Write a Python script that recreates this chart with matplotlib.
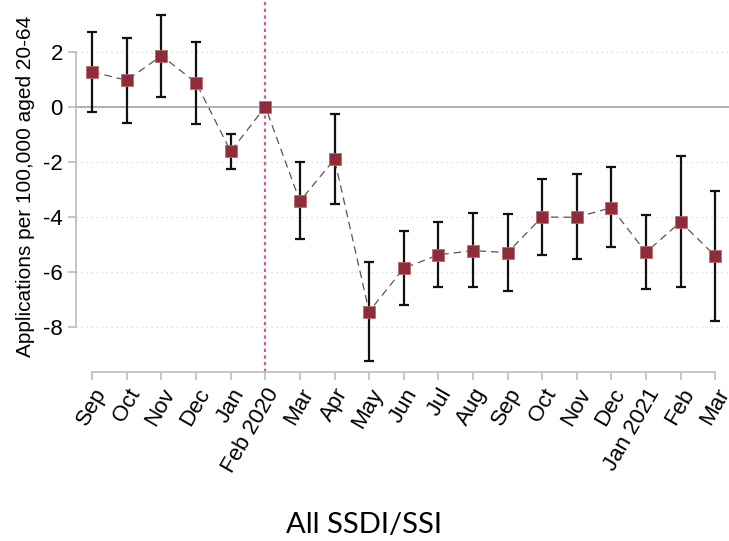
import numpy as np
import matplotlib
matplotlib.use('Agg')
import matplotlib.pyplot as plt

plt.rcParams['font.family'] = ['Liberation Sans', 'DejaVu Sans']
plt.rcParams['axes.unicode_minus'] = False

# months (Sep 2019 - Mar 2021), Feb 2020 is the reference month
months = ['Sep', 'Oct', 'Nov', 'Dec', 'Jan', 'Feb 2020', 'Mar', 'Apr', 'May', 'Jun',
          'Jul', 'Aug', 'Sep', 'Oct', 'Nov', 'Dec', 'Jan 2021', 'Feb', 'Mar']
coef = [1.26, 0.96, 1.85, 0.87, -1.62, 0.0, -3.43, -1.90, -7.43, -5.86,
        -5.37, -5.22, -5.29, -4.00, -4.01, -3.66, -5.28, -4.18, -5.41]
ci_hi = [2.72, 2.50, 3.32, 2.34, -0.99, 0.0, -2.02, -0.27, -5.64, -4.49,
         -4.19, -3.86, -3.88, -2.61, -2.44, -2.18, -3.91, -1.80, -3.05]
ci_lo = [-0.18, -0.58, 0.37, -0.61, -2.25, 0.0, -4.80, -3.52, -9.21, -7.20,
         -6.54, -6.54, -6.70, -5.38, -5.54, -5.09, -6.62, -6.53, -7.76]
ref_idx = 5
yticks = [2, 0, -2, -4, -6, -8]

x = np.arange(len(months))
coef = np.array(coef)
lo = coef - np.array(ci_lo)
hi = np.array(ci_hi) - coef

fig = plt.figure(figsize=(7.29, 5.41), dpi=100)
ax = fig.add_axes([76 / 729, 1 - 372 / 541, 1 - 76 / 729, 372 / 541])

# grid + zero line
for v in yticks:
    if v != 0:
        ax.axhline(v, color='#d4d4d4', lw=0.9, ls=(0, (1, 3)), zorder=0)
ax.axhline(0, color='#aaaaaa', lw=1.3, zorder=1)
ax.axvline(ref_idx, color='#d2589e', lw=1.6, ls=(0, (1.5, 1.5)), zorder=1)

# error bars (no bar on reference month)
mask = x != ref_idx
ax.errorbar(x[mask], coef[mask], yerr=[lo[mask], hi[mask]], fmt='none',
            ecolor='#111111', elinewidth=1.6, capsize=3.5, capthick=1.6, zorder=2)
ax.plot(x, coef, color='#555555', lw=0.9, ls=(0, (6, 4)), zorder=3)
ax.plot(x, coef, ls='none', marker='s', ms=9, color='#8e2c3a',
        mec='#b86a72', mew=0.6, zorder=4)

ax.set_xlim(-0.47, 18.4)
ax.set_ylim(-9.62, 3.87)
ax.set_xticks(x)
ax.set_xticklabels(months, rotation=60, ha='right', rotation_mode='anchor', fontsize=16)
ax.set_yticks(yticks)
ax.set_yticklabels([str(v) for v in yticks], fontsize=16)
ax.set_ylabel('Applications per 100,000 aged 20-64', fontsize=15, labelpad=6)

for s in ['top', 'right']:
    ax.spines[s].set_visible(False)
ax.spines['left'].set_bounds(-8, 2)
ax.spines['bottom'].set_bounds(0, 18)
for s in ['left', 'bottom']:
    ax.spines[s].set_color('#bbbbbb')
    ax.spines[s].set_linewidth(1.2)
ax.tick_params(axis='both', color='#bbbbbb', width=1.2, length=6)
ax.tick_params(axis='x', pad=3)

fig.text(0.5, 1 - 525 / 541, 'All SSDI/SSI', ha='center', va='center',
         fontsize=21, family=['Lato', 'DejaVu Sans'], color='black')

fig.savefig('out.png', dpi=100)
